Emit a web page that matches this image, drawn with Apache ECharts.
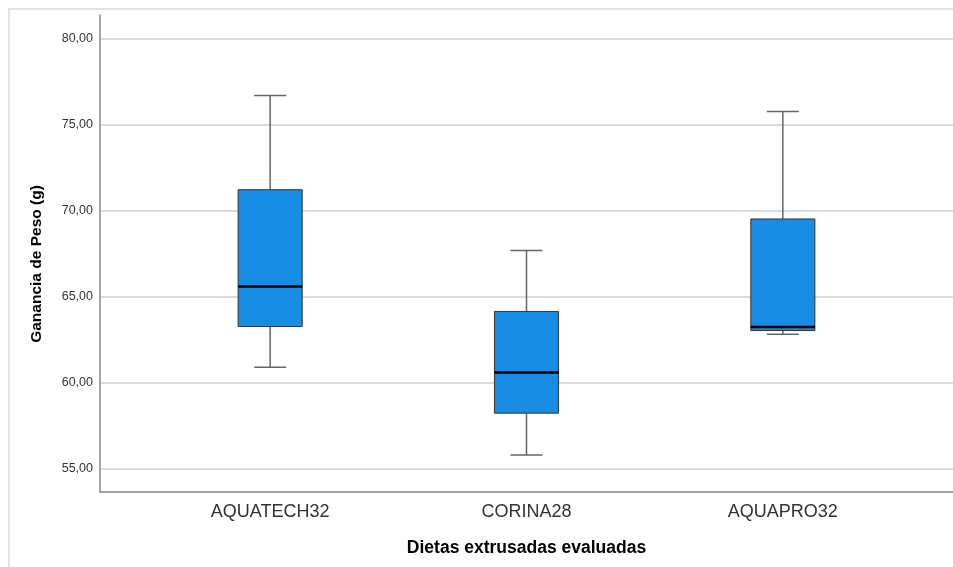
<!DOCTYPE html>
<html>
<head>
<meta charset="utf-8">
<script src="https://cdn.jsdelivr.net/npm/echarts@6/dist/echarts.min.js"></script>
<style>
  html, body { margin: 0; padding: 0; background: #fff; }
  #main { width: 953px; height: 567px; }
</style>
</head>
<body>
<div id="main"></div>
<script>
// datos
var categories = ['AQUATECH32', 'CORINA28', 'AQUAPRO32'];
var lowWhisker = [60.91, 55.81, 62.83];
var q1 = [63.27, 58.24, 63.04];
var median = [65.60, 60.60, 63.24];
var q3 = [71.22, 64.15, 69.52];
var highWhisker = [76.70, 67.69, 75.77];
var yTicks = [55, 60, 65, 70, 75, 80];

var FONT = 'Liberation Sans, Arial, sans-serif';
var yMin = 53.66, yMax = 81.37;

var boxData = [];
for (var i = 0; i < categories.length; i++) {
  boxData.push([i, lowWhisker[i], q1[i], median[i], q3[i], highWhisker[i]]);
}

function renderBox(params, api) {
  var idx = api.value(0);
  var band = api.size([1, 0])[0];
  var bw = band * 0.25;
  var cw = bw / 2;
  var pLow = api.coord([idx, api.value(1)]);
  var pQ1 = api.coord([idx, api.value(2)]);
  var pMed = api.coord([idx, api.value(3)]);
  var pQ3 = api.coord([idx, api.value(4)]);
  var pHigh = api.coord([idx, api.value(5)]);
  var x = pMed[0];
  var whisk = { stroke: '#666', lineWidth: 1.5 };
  return {
    type: 'group',
    children: [
      { type: 'line', shape: { x1: x, y1: pHigh[1], x2: x, y2: pQ3[1] }, style: whisk },
      { type: 'line', shape: { x1: x - cw / 2, y1: pHigh[1], x2: x + cw / 2, y2: pHigh[1] }, style: whisk },
      { type: 'line', shape: { x1: x, y1: pQ1[1], x2: x, y2: pLow[1] }, style: whisk },
      { type: 'line', shape: { x1: x - cw / 2, y1: pLow[1], x2: x + cw / 2, y2: pLow[1] }, style: whisk },
      {
        type: 'rect',
        shape: { x: x - bw / 2, y: pQ3[1], width: bw, height: pQ1[1] - pQ3[1] },
        style: { fill: '#178ce3', stroke: '#333', lineWidth: 1 }
      },
      { type: 'line', shape: { x1: x - bw / 2, y1: pMed[1], x2: x + bw / 2, y2: pMed[1] }, style: { stroke: '#000', lineWidth: 2.5 } }
    ]
  };
}

var chart = echarts.init(document.getElementById('main'));
var option = {
  backgroundColor: '#fff',
  animation: false,
  graphic: [{
    type: 'rect',
    shape: { x: 9, y: 9, width: 960, height: 580 },
    style: { fill: 'none', stroke: '#e2e2e2', lineWidth: 2 },
    silent: true
  }],
  grid: [
    { left: 100, right: -2, top: 15, bottom: 75 },
    { left: 142, right: 42, top: 15, bottom: 75 }
  ],
  xAxis: [
    {
      gridIndex: 0,
      type: 'value',
      min: 0,
      max: 1,
      axisLine: { show: true, lineStyle: { color: '#888', width: 1.5 } },
      axisTick: { show: false },
      axisLabel: { show: false },
      splitLine: { show: false }
    },
    {
      gridIndex: 1,
      type: 'category',
      data: categories,
      axisLine: { show: false },
      axisTick: { show: false },
      axisLabel: { color: '#333', fontFamily: FONT, fontSize: 18, margin: 11 },
      name: 'Dietas extrusadas evaluadas',
      nameLocation: 'middle',
      nameGap: 47,
      nameTextStyle: { color: '#000', fontFamily: FONT, fontSize: 17.5, fontWeight: 'bold' }
    }
  ],
  yAxis: [
    {
      gridIndex: 0,
      type: 'value',
      min: yMin,
      max: yMax,
      axisLine: { show: true, lineStyle: { color: '#888', width: 1.5 } },
      axisTick: { show: false, customValues: yTicks },
      axisLabel: {
        customValues: yTicks,
        color: '#333',
        fontFamily: FONT,
        fontSize: 12.5,
        margin: 7,
        formatter: function (v) { return v.toFixed(2).replace('.', ','); }
      },
      splitLine: { show: true, lineStyle: { color: '#cfcfcf', width: 1.5 } },
      name: 'Ganancia de Peso (g)',
      nameLocation: 'middle',
      nameGap: 55,
      nameTextStyle: { color: '#000', fontFamily: FONT, fontSize: 15.5, fontWeight: 'bold', padding: [0, 21, 0, 0] }
    },
    {
      gridIndex: 1,
      type: 'value',
      min: yMin,
      max: yMax,
      show: false,
      splitLine: { show: false }
    }
  ],
  series: [{
    type: 'custom',
    xAxisIndex: 1,
    yAxisIndex: 1,
    renderItem: renderBox,
    encode: { x: 0, y: [1, 2, 3, 4, 5] },
    data: boxData
  }]
};
chart.setOption(option);
</script>
</body>
</html>
